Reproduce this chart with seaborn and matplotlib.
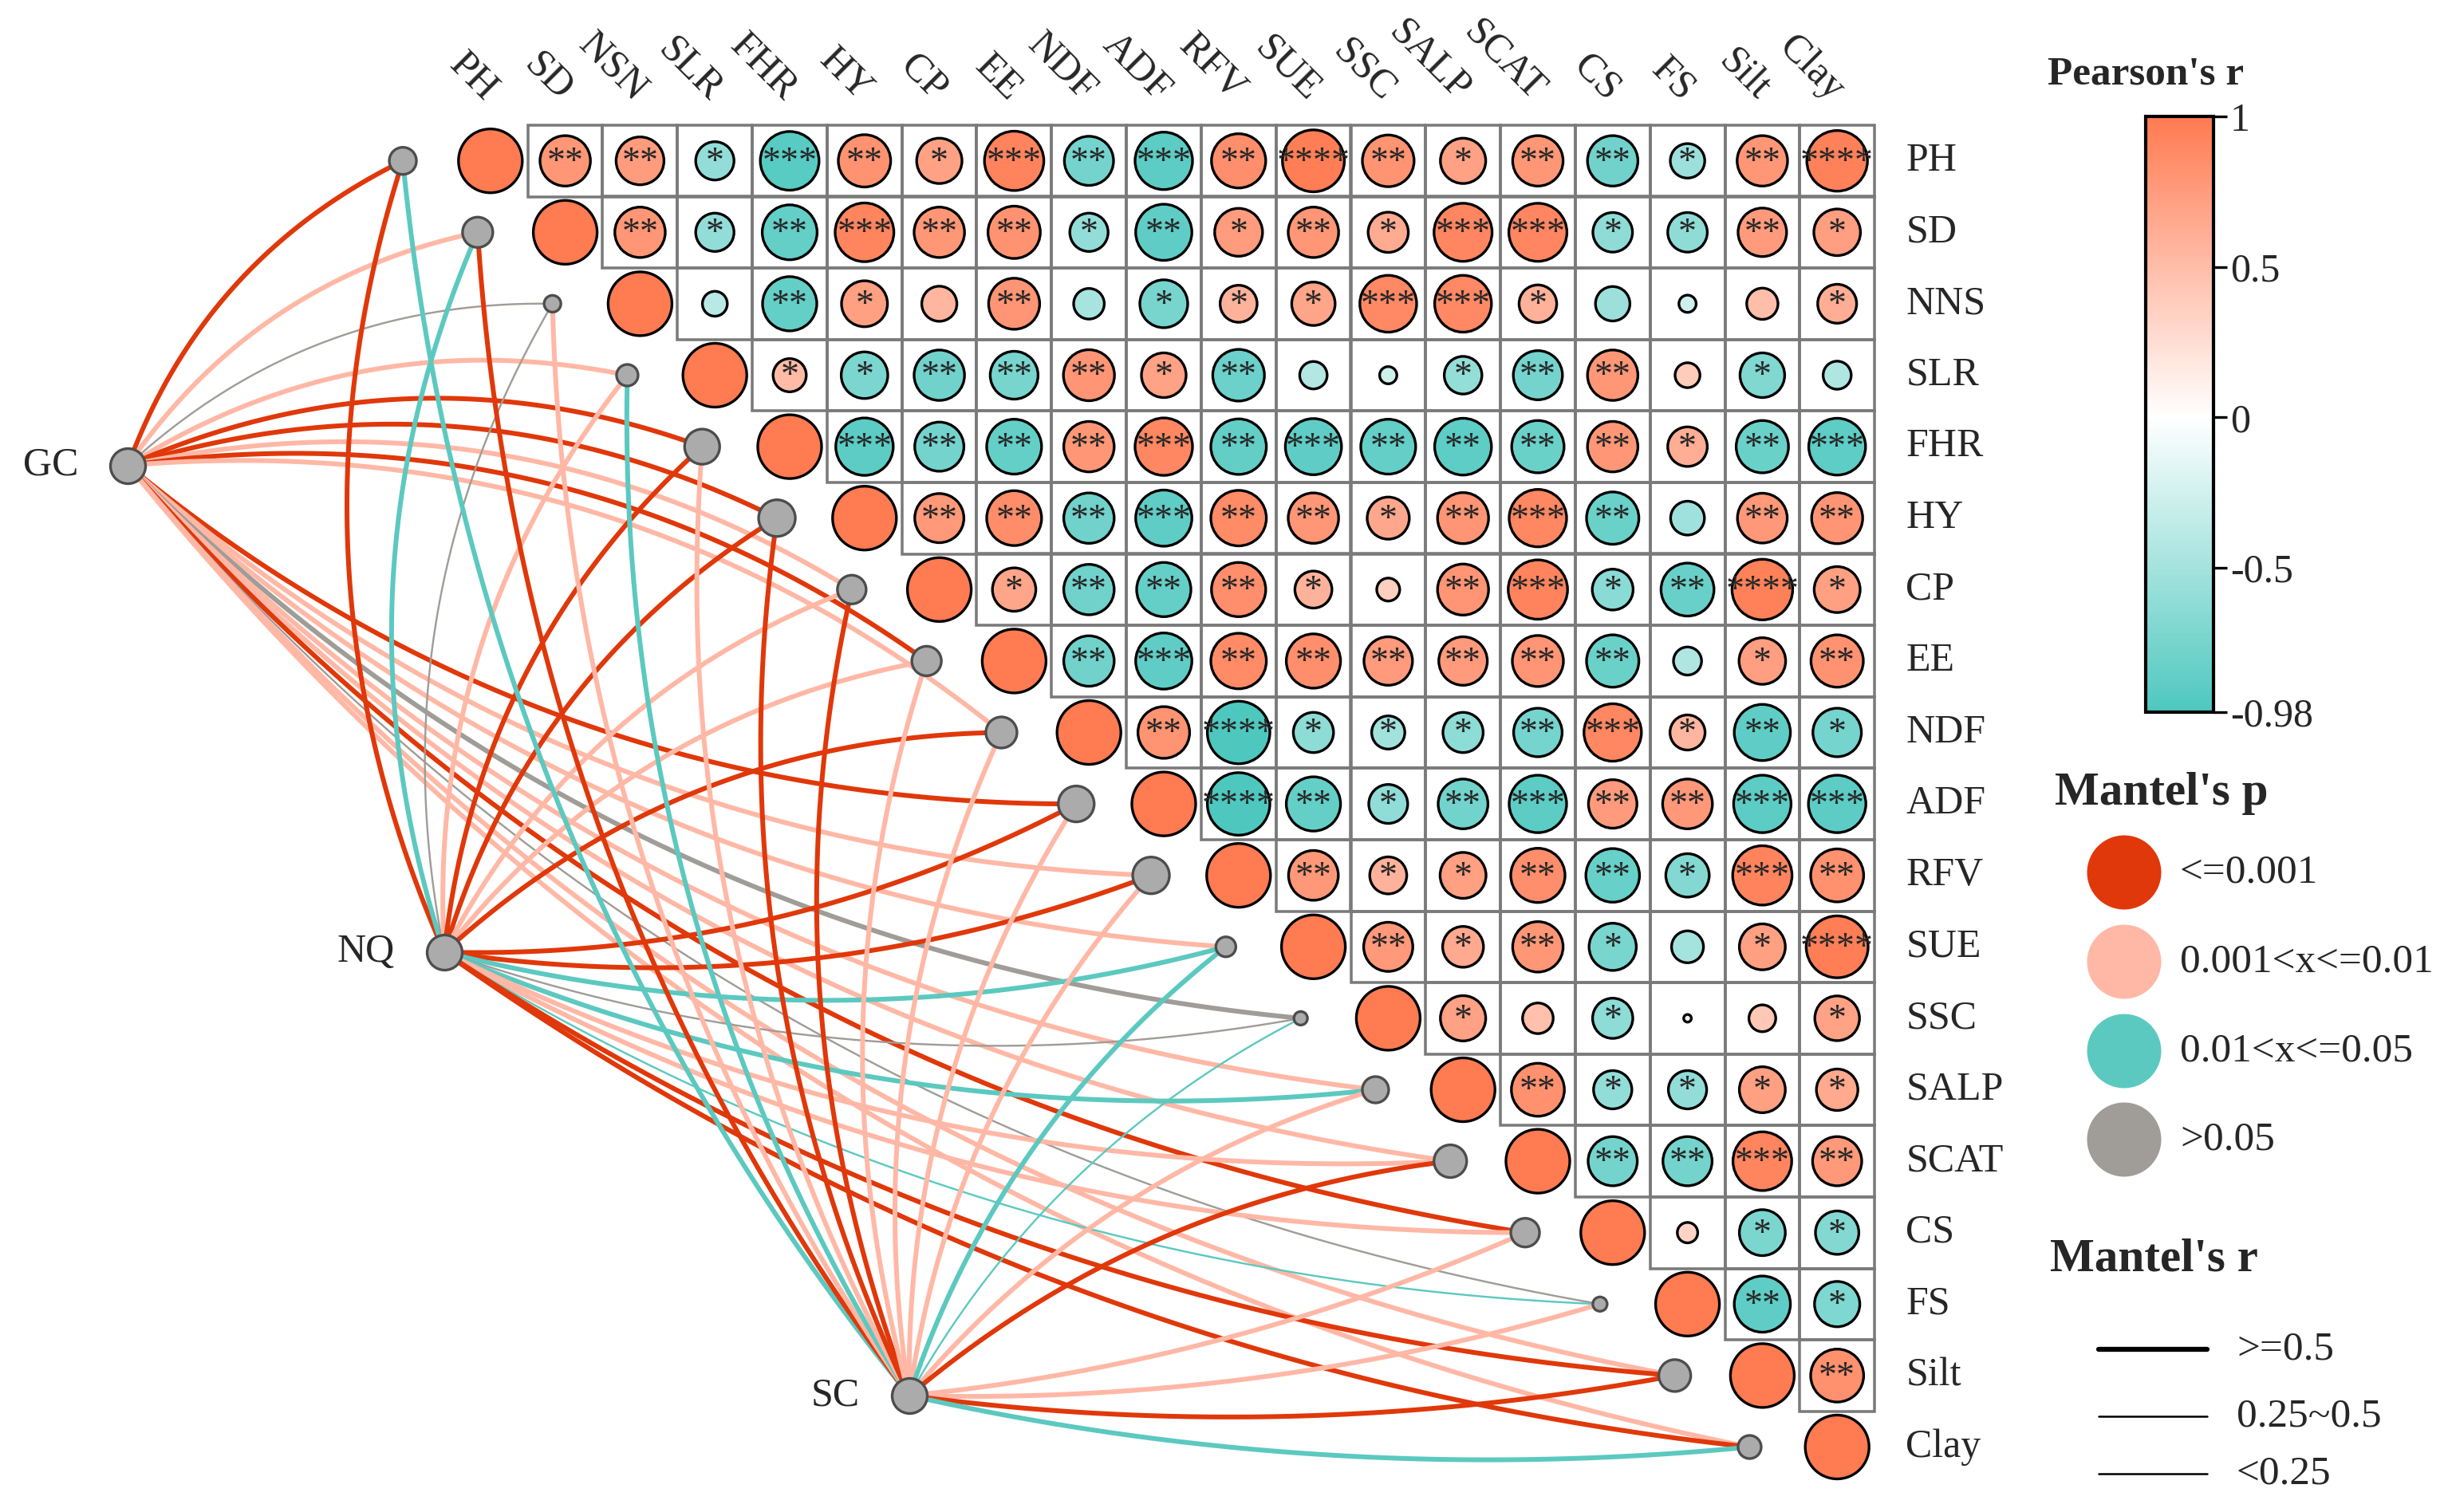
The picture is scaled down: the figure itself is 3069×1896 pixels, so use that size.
import numpy as np
import pandas as pd
import matplotlib
matplotlib.use("Agg")
import matplotlib.pyplot as plt
import seaborn as sns
from matplotlib.colors import LinearSegmentedColormap, Normalize
from matplotlib.cm import ScalarMappable
from matplotlib.patches import Rectangle

# ---------------- data ----------------
variables = ['PH', 'SD', 'NNS', 'SLR', 'FHR', 'HY', 'CP', 'EE', 'NDF', 'ADF',
             'RFV', 'SUE', 'SSC', 'SALP', 'SCAT', 'CS', 'FS', 'Silt', 'Clay']
col_labels = ['PH', 'SD', 'NSN', 'SLR', 'FHR', 'HY', 'CP', 'EE', 'NDF', 'ADF',
              'RFV', 'SUE', 'SSC', 'SALP', 'SCAT', 'CS', 'FS', 'Silt', 'Clay']

# Pearson r, upper triangle (row i, columns i+1 .. 18)
r_upper = [
    [.79, .75, -.60, -.92, .82, .71, .93, -.77, -.90, .85, .97, .81, .71, .79, -.79, -.54, .79, .95],
    [.79, -.60, -.86, .92, .79, .82, -.60, -.88, .75, .79, .63, .91, .91, -.62, -.62, .76, .73],
    [-.39, -.85, .72, .55, .80, -.48, -.75, .58, .68, .89, .89, .59, -.54, -.27, .49, .61],
    [.52, -.73, -.79, -.75, .80, .70, -.81, -.43, -.27, -.59, -.77, .79, .39, -.70, -.44],
    [-.90, -.77, -.86, .79, .90, -.87, -.88, -.86, -.89, -.82, .79, .62, -.82, -.89],
    [.77, .86, -.79, -.88, .87, .79, .66, .80, .90, -.82, -.53, .78, .80],
    [.68, -.79, -.85, .85, .58, .36, .80, .93, -.64, -.83, .95, .72],
    [-.79, -.88, .87, .85, .76, .76, .80, -.82, -.44, .73, .82],
    [.81, -.98, -.63, -.52, -.63, -.76, .90, .55, -.88, -.76],
    [-.98, -.85, -.61, -.78, -.90, .76, .78, -.90, -.90],
    [.78, .58, .72, .85, -.84, -.68, .93, .83],
    [.77, .64, .79, -.74, -.50, .72, .97],
    [.71, .48, -.63, .12, .42, .70],
    [.83, -.60, -.60, .72, .65],
    [-.77, -.77, .92, .77],
    [.32, -.72, -.68],
    [-.88, -.71],
    [.83],
    [],
]
# number of significance stars, same layout
stars_upper = [
    [2, 2, 1, 3, 2, 1, 3, 2, 3, 2, 4, 2, 1, 2, 2, 1, 2, 4],
    [2, 1, 2, 3, 2, 2, 1, 2, 1, 2, 1, 3, 3, 1, 1, 2, 1],
    [0, 2, 1, 0, 2, 0, 1, 1, 1, 3, 3, 1, 0, 0, 0, 1],
    [1, 1, 2, 2, 2, 1, 2, 0, 0, 1, 2, 2, 0, 1, 0],
    [3, 2, 2, 2, 3, 2, 3, 2, 2, 2, 2, 1, 2, 3],
    [2, 2, 2, 3, 2, 2, 1, 2, 3, 2, 0, 2, 2],
    [1, 2, 2, 2, 1, 0, 2, 3, 1, 2, 4, 1],
    [2, 3, 2, 2, 2, 2, 2, 2, 0, 1, 2],
    [2, 4, 1, 1, 1, 2, 3, 1, 2, 1],
    [4, 2, 1, 2, 3, 2, 2, 3, 3],
    [2, 1, 1, 2, 2, 1, 3, 2],
    [2, 1, 2, 1, 0, 1, 4],
    [1, 0, 1, 0, 0, 1],
    [2, 1, 1, 1, 1],
    [2, 2, 3, 2],
    [0, 1, 1],
    [2, 1],
    [2],
    [],
]

envs = ['GC', 'NQ', 'SC']
# Mantel's p class: 1 '<=0.001', 2 '0.001<x<=0.01', 3 '0.01<x<=0.05', 4 '>0.05'
mantel_p_GC = [1, 2, 4, 2, 1, 1, 2, 1, 2, 1, 2, 2, 4, 2, 2, 1, 4, 2, 2]
mantel_p_NQ = [1, 3, 4, 2, 1, 1, 2, 2, 1, 1, 1, 3, 4, 3, 2, 2, 3, 1, 1]
mantel_p_SC = [3, 1, 2, 3, 2, 1, 1, 2, 2, 2, 2, 3, 3, 2, 1, 2, 2, 1, 3]
# Mantel's r class: 2 '>=0.5', 1 '0.25~0.5', 0 '<0.25'
mantel_r_GC = [2, 2, 0, 2, 2, 2, 2, 2, 2, 2, 2, 2, 2, 2, 2, 2, 0, 2, 2]
mantel_r_NQ = [2, 2, 0, 2, 2, 2, 2, 2, 2, 2, 2, 2, 0, 2, 2, 2, 1, 2, 2]
mantel_r_SC = [2, 2, 2, 2, 2, 2, 2, 2, 2, 2, 2, 2, 1, 2, 2, 2, 2, 2, 2]
# diameter of the grey node drawn for each variable (px)
node_size = [34, 38, 21, 27, 44, 46, 36, 37, 39, 45, 46, 25, 17, 33, 41, 36, 18, 40, 29]

p_labels = ['<=0.001', '0.001<x<=0.01', '0.01<x<=0.05', '>0.05']
r_labels = ['>=0.5', '0.25~0.5', '<0.25']

# ---------------- style ----------------
W, H, DPI = 3070, 1896, 300
SX, SY = 93.8, 89.6          # pixels per cell
X0, Y0 = 614.8, 201.7        # pixel centre of cell (PH, PH)
PT = 72.0 / DPI

p_colors = {1: '#E0380A', 2: '#FFB8A6', 3: '#5CC9C0', 4: '#A09C97'}
r_widths = {2: 6.0 * PT, 1: 2.4 * PT, 0: 2.4 * PT}
env_pos = {'GC': (160.5, 583.5), 'NQ': (557.0, 1194.0), 'SC': (1140.0, 1750.0)}
switch_idx = {'GC': 9, 'NQ': 9, 'SC': 15}
bend = {'GC': (0.20, 0.18), 'NQ': (0.19, 0.13), 'SC': (0.15, 0.08)}
serif = ['Liberation Serif', 'DejaVu Serif']

sns.set_theme(style='white')
plt.rcParams['font.family'] = serif


def P(xp, yp):
    return (xp - X0) / SX, -(yp - Y0) / SY


cmap = LinearSegmentedColormap.from_list(
    'pear', [(0.0, '#4EC8BF'), (0.98 / 1.98, '#FFFFFF'), (1.0, '#FF7B52')])
norm = Normalize(vmin=-0.98, vmax=1.0)

fig = plt.figure(figsize=(W / DPI, H / DPI), dpi=DPI)
ax = fig.add_axes([0, 0, 1, 1])
xl0, yb0 = P(0, H)
xr0, yt0 = P(W, 0)
ax.set_xlim(xl0, xr0)
ax.set_ylim(yb0, yt0)
ax.axis('off')

n = len(variables)

# ---------------- matrix ----------------
recs = []
for i in range(n):
    recs.append(dict(x=i, y=-i, r=1.0, stars=0))
    for k, (rv, st) in enumerate(zip(r_upper[i], stars_upper[i])):
        recs.append(dict(x=i + 1 + k, y=-i, r=rv, stars=st))
df = pd.DataFrame(recs)
df['r2'] = df['r'] ** 2

for i in range(n):
    for j in range(i + 1, n):
        ax.add_patch(Rectangle((j - 0.5, -i - 0.5), 1, 1, fill=False,
                               ec='#7A7A7A', lw=0.85, zorder=2))

dmax = 80 * PT
sns.scatterplot(data=df, x='x', y='y', hue='r', size='r2', palette=cmap,
                hue_norm=norm, sizes=(0, dmax ** 2), size_norm=(0, 1),
                edgecolor='black', linewidth=0.8, legend=False, ax=ax, zorder=5)
for _, row in df.iterrows():
    if row['stars'] > 0:
        ax.text(row['x'], row['y'] - 0.03, '*' * int(row['stars']), ha='center',
                va='center', fontsize=11, zorder=6)

# labels
for j, lab in enumerate(col_labels):
    ax.text(j - 0.08, 0.82, lab, rotation=-45, rotation_mode='anchor',
            ha='right', va='baseline', fontsize=12)
for i, lab in enumerate(variables):
    ax.text(18.92, -i, lab, ha='left', va='center', fontsize=12)

# ---------------- Mantel links ----------------
node_xy = [(i - 1.17, -i) for i in range(n)]


def curve(p0, p2, sign, rad, m=80):
    x0, y0 = p0[0] * SX, p0[1] * SY
    x2, y2 = p2[0] * SX, p2[1] * SY
    dx, dy = x2 - x0, y2 - y0
    cx = (x0 + x2) / 2 + sign * rad * (-dy)
    cy = (y0 + y2) / 2 + sign * rad * dx
    t = np.linspace(0, 1, m)
    xs = (1 - t) ** 2 * x0 + 2 * t * (1 - t) * cx + t ** 2 * x2
    ys = (1 - t) ** 2 * y0 + 2 * t * (1 - t) * cy + t ** 2 * y2
    return xs / SX, ys / SY


p_tab = {'GC': mantel_p_GC, 'NQ': mantel_p_NQ, 'SC': mantel_p_SC}
r_tab = {'GC': mantel_r_GC, 'NQ': mantel_r_NQ, 'SC': mantel_r_SC}
for e in envs:
    ex, ey = P(*env_pos[e])
    for i in range(n):
        upper = i < switch_idx[e]
        sign = 1 if upper else -1
        rad = bend[e][0] if upper else bend[e][1]
        xs, ys = curve((ex, ey), node_xy[i], sign, rad)
        ax.plot(xs, ys, color=p_colors[p_tab[e][i]], lw=r_widths[r_tab[e][i]],
                solid_capstyle='butt', zorder=1)

nodes = pd.DataFrame({'x': [p[0] for p in node_xy], 'y': [p[1] for p in node_xy],
                      's': [(d * PT) ** 2 for d in node_size]})
ax.scatter(nodes['x'], nodes['y'], s=nodes['s'], c='#ABABAB', edgecolors='#4D4D4D',
           linewidths=0.8, zorder=3)
for e in envs:
    ex, ey = P(*env_pos[e])
    ax.scatter([ex], [ey], s=(44 * PT) ** 2, c='#ABABAB', edgecolors='#4D4D4D',
               linewidths=0.8, zorder=3)
    ax.text(ex - 0.66, ey, e, ha='right', va='center', fontsize=12)

# ---------------- colorbar ----------------
cax = fig.add_axes([2690 / W, 1 - 893 / H, 85 / W, (893 - 146) / H])
cb = fig.colorbar(ScalarMappable(norm=norm, cmap=cmap), cax=cax)
cb.set_ticks([1, 0.5, 0, -0.5, -0.98])
cb.set_ticklabels(['1', '0.5', '0', '-0.5', '-0.98'])
cb.outline.set_linewidth(1.0)
cb.outline.set_edgecolor('black')
cax.tick_params(length=4, width=0.8, labelsize=12, pad=1, color='black')
ax.text(*P(2690, 93), "Pearson's r", ha='center', va='center', fontsize=12.3,
        fontweight='bold')

# ---------------- legends ----------------
ax.text(*P(2710, 995), "Mantel's p", ha='center', va='center', fontsize=14.2,
        fontweight='bold')
for k, yy in enumerate([1094, 1206, 1318, 1429]):
    cx, cy = P(2663, yy)
    ax.scatter([cx], [cy], s=(93 * PT) ** 2, c=p_colors[k + 1], edgecolors='none',
               zorder=3)
    ax.text(*P(2733, yy), p_labels[k], ha='left', va='center', fontsize=12.3)

ax.text(*P(2700, 1580), "Mantel's r", ha='center', va='center', fontsize=14.2,
        fontweight='bold')
for k, (yy, lw) in enumerate(zip([1692, 1776, 1848], [1.5, 0.6, 0.6])):
    xa, ya = P(2631, yy)
    xb, yb = P(2767, yy)
    ax.plot([xa, xb], [ya, yb], color='black', lw=lw, solid_capstyle='round')
    ax.text(*P(2804, yy), r_labels[k], ha='left', va='center', fontsize=12.3)

fig.savefig('out.png', dpi=DPI, facecolor='white')
